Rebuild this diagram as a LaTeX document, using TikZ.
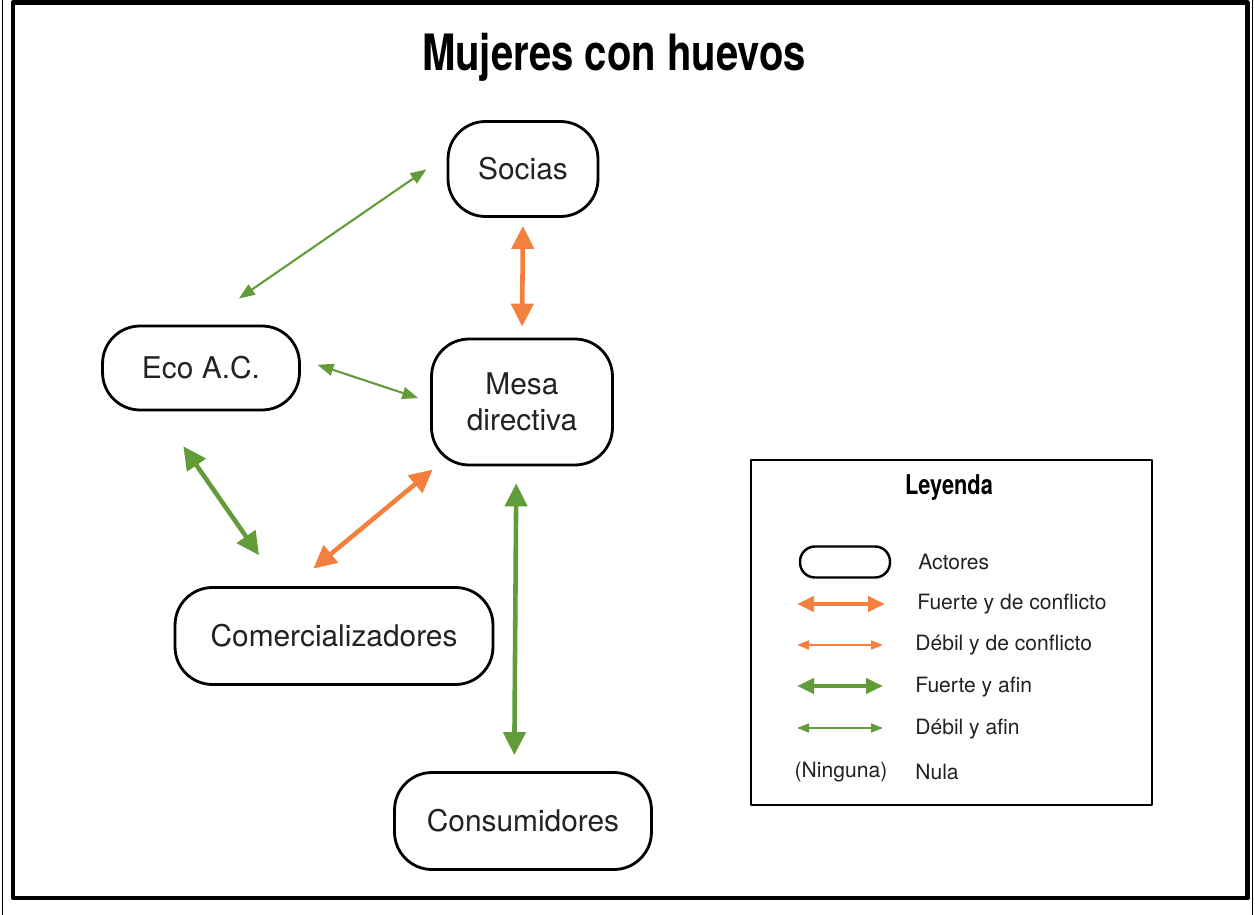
\documentclass[tikz,border=0pt]{standalone}
\usepackage{fontspec}
\setmainfont{TeX Gyre Heros}
\newfontfamily\condfont[FakeStretch=0.8]{TeX Gyre Heros}
\usetikzlibrary{arrows.meta,positioning}
\definecolor{conflicto}{RGB}{244,128,64}
\definecolor{afin}{RGB}{98,156,56}
\definecolor{texto}{RGB}{34,34,34}
\tikzset{
  actor/.style={draw,line width=1.6pt,rounded corners=0.75cm,align=center,
    inner sep=0pt,text=texto,font=\fontsize{17}{20.5}\selectfont},
  fuerte/.style={line width=2.6pt,
    {Triangle[length=0.46cm,width=0.44cm]}-{Triangle[length=0.46cm,width=0.44cm]}},
  debil/.style={line width=1.2pt,
    {Triangle[length=0.32cm,width=0.24cm]}-{Triangle[length=0.32cm,width=0.24cm]}},
  legfuerte/.style={line width=2.4pt,
    {Triangle[length=0.34cm,width=0.3cm]}-{Triangle[length=0.34cm,width=0.3cm]}},
  legdebil/.style={line width=1pt,
    {Triangle[length=0.24cm,width=0.18cm]}-{Triangle[length=0.24cm,width=0.18cm]}},
  legtxt/.style={anchor=west,inner sep=0pt,text=texto,font=\fontsize{12}{14}\selectfont}
}
\begin{document}
\begin{tikzpicture}[x=0.02cm,y=-0.02cm,line join=round]
  \useasboundingbox (0,0) rectangle (1255,915);
  % marco
  \draw[line width=0.09cm] (13,2.5) rectangle (1247.5,898);
  \draw[line width=0.6pt] (2.5,0) -- (2.5,915);
  \draw[line width=0.6pt] (1252.5,0) -- (1252.5,915);
  \node[font=\condfont\bfseries\fontsize{28.5}{33}\selectfont] (titulo) at (614,57) {Mujeres con huevos};
  % actores
  \node[actor,minimum width=3.0cm,minimum height=1.9cm] (socias) at (523,169) {Socias};
  \node[actor,minimum width=3.94cm,minimum height=1.68cm] (eco) at (201,368) {Eco A.C.};
  \node[actor,minimum width=3.62cm,minimum height=2.52cm] (mesa) at (522,402) {Mesa\\directiva};
  \node[actor,minimum width=6.36cm,minimum height=1.94cm] (comer) at (334,636) {Comercializadores};
  \node[actor,minimum width=5.14cm,minimum height=1.94cm] (consu) at (523,821) {Consumidores};
  % relaciones
  \draw[debil,afin,shorten <=0.49cm,shorten >=0.92cm] (socias.170) -- (eco.north);
  \draw[fuerte,conflicto,shorten <=0.16cm,shorten >=0.22cm] (socias.south) -- (mesa.north);
  \draw[debil,afin,shorten <=0.35cm,shorten >=0.25cm] (eco.5) -- (mesa.west);
  \draw[fuerte,afin,shorten <=0.85cm,shorten >=0.75cm] (eco.226) -- (comer.137);
  \draw[fuerte,conflicto,shorten <=0.55cm,shorten >=0.1cm] (comer.130) -- (mesa.217);
  \draw[fuerte,afin,shorten <=0.34cm,shorten >=0.32cm] (mesa.265) -- (consu.100);
  % leyenda
  \node[draw,line width=1.4pt,minimum width=8.02cm,minimum height=6.9cm] (leyenda) at (951.5,632.5) {};
  \node[font=\condfont\bfseries\fontsize{15.5}{18}\selectfont] (leytit) at (949,488) {Leyenda};
  \node[actor,rounded corners=0.3cm,line width=1.4pt,minimum width=1.8cm,minimum height=0.62cm] (muestra) at (845,562) {};
  \node[legtxt] (tactor) at (918,562) {Actores};
  \coordinate (fca) at (797,604); \coordinate (fcb) at (885,604);
  \draw[legfuerte,conflicto] (fca) -- (fcb);
  \node[legtxt] (tfc) at (917,604) {Fuerte y de conflicto};
  \coordinate (dca) at (797,645); \coordinate (dcb) at (883,645);
  \draw[legdebil,conflicto] (dca) -- (dcb);
  \node[legtxt] (tdc) at (915,645) {Débil y de conflicto};
  \coordinate (faa) at (797,686); \coordinate (fab) at (883,686);
  \draw[legfuerte,afin] (faa) -- (fab);
  \node[legtxt] (tfa) at (915,687) {Fuerte y afin};
  \coordinate (daa) at (797,728); \coordinate (dab) at (883,728);
  \draw[legdebil,afin] (daa) -- (dab);
  \node[legtxt] (tda) at (915,729) {Débil y afin};
  \node[legtxt,anchor=center] (tning) at (841,772) {(Ninguna)};
  \node[legtxt] (tnula) at (915,772) {Nula};
\end{tikzpicture}
\end{document}
